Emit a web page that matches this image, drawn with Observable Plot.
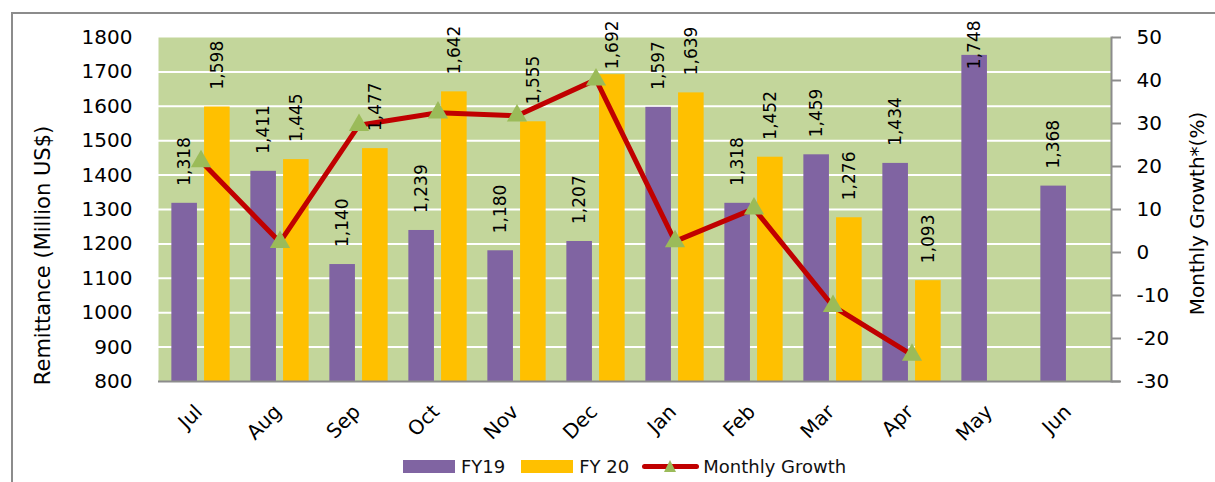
<!DOCTYPE html>
<html>
<head>
<meta charset="utf-8">
<script src="https://cdn.jsdelivr.net/npm/d3@7"></script>
<script src="https://cdn.jsdelivr.net/npm/@observablehq/plot@0.6"></script>
<style>
  html, body { margin: 0; padding: 0; background: #fff; }
  body { width: 1215px; height: 482px; overflow: hidden; position: relative; font-family: "DejaVu Sans", sans-serif; }
  #frame { position: absolute; left: 11px; top: 12px; width: 1220px; height: 480px; border-left: 2px solid #8c8c8c; border-top: 2px solid #8c8c8c; pointer-events: none; }
  #chart { position: absolute; left: 0; top: 0; }
  #legend { position: absolute; left: 403px; top: 452px; height: 28px; display: flex; align-items: center; font-size: 18px; color: #111; white-space: nowrap; }
  .sw { width: 52px; height: 13px; display: inline-block; }
  .lbl { margin-left: 6px; }
  .line-ic { position: relative; width: 57px; height: 13px; display: inline-block; }
  .line-ic .bar { position: absolute; left: 0; right: 0; top: 4px; height: 5px; background: #c00000; border-radius: 3px; }
  .line-ic .tri { position: absolute; left: 22px; top: 0; width: 0; height: 0; border-left: 6px solid transparent; border-right: 6px solid transparent; border-bottom: 12px solid #9bbb59; }
</style>
</head>
<body>
<div id="frame"></div>
<div id="chart"></div>
<div id="legend">
  <span class="sw" style="background:#8064a2"></span><span class="lbl">FY19</span>
  <span class="sw" style="background:#ffc000;margin-left:16px"></span><span class="lbl">FY 20</span>
  <span class="line-ic" style="margin-left:13px"><span class="bar"></span><span class="tri"></span></span><span class="lbl" style="margin-left:4px">Monthly Growth</span>
</div>
<script>
// ---- data ----
const months = ["Jul","Aug","Sep","Oct","Nov","Dec","Jan","Feb","Mar","Apr","May","Jun"];
const fy19 = [1318, 1411, 1140, 1239, 1180, 1207, 1597, 1318, 1459, 1434, 1748, 1368];
const fy20 = [1598, 1445, 1477, 1642, 1555, 1692, 1639, 1452, 1276, 1093, null, null];
const growth = [21.2, 2.4, 29.6, 32.5, 31.8, 40.2, 2.6, 10.2, -12.5, -23.8, null, null];
const leftTicks = [800, 900, 1000, 1100, 1200, 1300, 1400, 1500, 1600, 1700, 1800];
const gridTicks = [900, 1000, 1100, 1200, 1300, 1400, 1500, 1600, 1700];
const rightTicks = [-30, -20, -10, 0, 10, 20, 30, 40, 50];
const leftTitle = "Remittance (Million US$)";
const rightTitle = "Monthly Growth*(%)";

// ---- layout ----
const W = 1215, H = 450;
const mL = 158, mR = 104, mT = 37, mB = 69;
const yMin = 800, yMax = 1800, gMin = -30, gMax = 50;
const toLeft = g => yMin + (g - gMin) * (yMax - yMin) / (gMax - gMin);
const fromLeft = v => Math.round(gMin + (v - yMin) * (gMax - gMin) / (yMax - yMin));

const B = (W - mL - mR) / months.length;
const barW = 26, gap = 6.7, edge = (B - 2 * barW - gap) / 2;
const off = (barW + gap) / 2;

const rows19 = months.map((m, i) => ({month: m, value: fy19[i]})).filter(d => d.value != null);
const rows20 = months.map((m, i) => ({month: m, value: fy20[i]})).filter(d => d.value != null);
const rowsG = months.map((m, i) => ({month: m, g: growth[i]})).filter(d => d.g != null);

const labelPos = v => Math.min(v + 51, 1708);
const fmt = d3.format(",");

const chart = Plot.plot({
  width: W, height: H,
  marginLeft: mL, marginRight: mR, marginTop: mT, marginBottom: mB,
  style: {fontFamily: "DejaVu Sans, sans-serif", fontSize: "20px", color: "#000", background: "transparent", overflow: "visible"},
  x: {domain: months, padding: 0, axis: null, label: null},
  y: {domain: [yMin, yMax], axis: null, label: null},
  marks: [
    Plot.frame({fill: "#c3d69b", stroke: "none"}),
    Plot.gridY(gridTicks, {stroke: "#fff", strokeOpacity: 1, strokeWidth: 2}),
    Plot.barY(rows19, {x: "month", y1: yMin, y2: "value", fill: "#8064a2", insetLeft: edge, insetRight: B - edge - barW}),
    Plot.barY(rows20, {x: "month", y1: yMin, y2: "value", fill: "#ffc000", insetLeft: edge + barW + gap, insetRight: edge}),
    Plot.ruleY([yMin], {stroke: "#8c8c8c", strokeWidth: 2, insetRight: -9}),
    Plot.frame({anchor: "right", stroke: "#8c8c8c", strokeWidth: 2}),
    Plot.line(rowsG, {x: "month", y: d => toLeft(d.g), stroke: "#c00000", strokeWidth: 5, strokeLinejoin: "round"}),
    Plot.dot(rowsG, {x: "month", y: d => toLeft(d.g), symbol: "triangle", r: 7.5, fill: "#9bbb59", stroke: "none"}),
    Plot.text(rows19, {x: "month", y: d => labelPos(d.value), text: d => fmt(d.value), rotate: -90, textAnchor: "start", dx: -off, fontSize: 17, fill: "#000"}),
    Plot.text(rows20, {x: "month", y: d => labelPos(d.value), text: d => fmt(d.value), rotate: -90, textAnchor: "start", dx: off, fontSize: 17, fill: "#000"}),
    Plot.axisY({anchor: "left", ticks: leftTicks, tickSize: 0, tickPadding: 26, fontSize: 20, label: null, tickFormat: d => String(d)}),
    Plot.axisY({anchor: "right", ticks: rightTicks.map(toLeft), tickSize: 9, tickPadding: 16, fontSize: 20, label: null, stroke: "#8c8c8c", strokeWidth: 2, tickFormat: v => String(fromLeft(v))}),
    Plot.axisX({anchor: "bottom", tickRotate: -45, tickSize: 0, tickPadding: 27, dx: -2, fontSize: 20, label: null}),
    Plot.text([leftTitle], {text: d => d, frameAnchor: "left", dx: -115.5, dy: 46, rotate: -90, textAnchor: "middle", fontSize: 21, fill: "#000"}),
    Plot.text([rightTitle], {text: d => d, frameAnchor: "right", dx: 86, dy: 4, rotate: -90, textAnchor: "middle", fontSize: 20, fill: "#000"})
  ]
});
document.getElementById("chart").appendChild(chart);
</script>
</body>
</html>
